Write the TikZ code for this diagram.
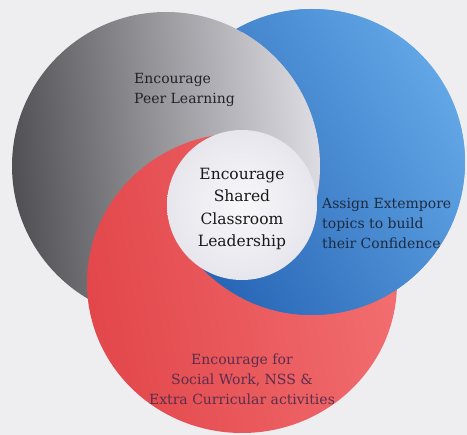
\documentclass[tikz,border=0pt]{standalone}
\usepackage{fontspec}
\setmainfont{DejaVu Serif}

\definecolor{bgcol}{HTML}{EEEEF1}
\definecolor{greyDark}{HTML}{505054}
\definecolor{greyLight}{HTML}{DCDCE2}
\definecolor{blueDark}{HTML}{2664B4}
\definecolor{blueLight}{HTML}{62A6E6}
\definecolor{redDark}{HTML}{E2474B}
\definecolor{redLight}{HTML}{F26E70}
\definecolor{midIn}{HTML}{F8F8FB}
\definecolor{midOut}{HTML}{E6E6EC}
\definecolor{greyText}{HTML}{222228}
\definecolor{blueText}{HTML}{1E2B40}
\definecolor{redText}{HTML}{5A2E4C}

\begin{document}
\begin{tikzpicture}[x=1pt,y=-1pt,
    greydisc/.style={left color=greyDark,right color=greyLight,shading angle=95},
    bluedisc/.style={left color=blueDark,right color=blueLight,shading angle=120},
    reddisc/.style={left color=redDark,right color=redLight,shading angle=100},
    labeltext/.style={font=\fontsize{14}{20}\selectfont,inner sep=0pt}]
    \useasboundingbox (0,0) rectangle (467,435);
    \fill[bgcol] (0,0) rectangle (467,435);

    \coordinate (G) at (166,166);
    \coordinate (B) at (312,162);
    \coordinate (R) at (242,283);
    \coordinate (M) at (242,205);

    % Kreise
    \shade[bluedisc] (B) circle (153pt);
    \shade[greydisc] (G) circle (154pt);
    \shade[reddisc] (R) ellipse [x radius=155pt,y radius=150pt];
    \begin{scope}[even odd rule]
        \clip (-10,-10) rectangle (477,445) (G) circle (154pt);
        \shade[bluedisc] (B) circle (153pt);
    \end{scope}
    % Ecken der Dreifachschnittmenge
    \begin{scope}
        \clip (M) -- (242,-200) -- (700,-200) -- (700,436) -- cycle;
        \clip (B) circle (153pt);
        \shade[greydisc] (G) circle (154pt);
    \end{scope}
    \begin{scope}
        \clip (M) -- (700,436) -- (700,700) -- (-200,700) -- (-200,465) -- cycle;
        \clip (R) ellipse [x radius=155pt,y radius=150pt];
        \shade[bluedisc] (B) circle (153pt);
    \end{scope}
    \shade[inner color=midIn,outer color=midOut] (M) circle (75pt);

    % Texte
    \node (centre) at (242,209) [font=\fontsize{15.5}{22.5}\selectfont,align=center,text=black!90]
        {Encourage\\Shared\\Classroom\\Leadership};
    \node (peer) at (134,90) [labeltext,anchor=west,align=left,text=greyText]
        {Encourage\\Peer Learning};
    \node (extempore) at (322,223) [labeltext,anchor=west,align=left,text=blueText]
        {Assign Extempore\\topics to build\\their Confidence};
    \node (social) at (242,379) [labeltext,align=center,text=redText]
        {Encourage for\\Social Work, NSS \&\\Extra Curricular activities};
\end{tikzpicture}
\end{document}
